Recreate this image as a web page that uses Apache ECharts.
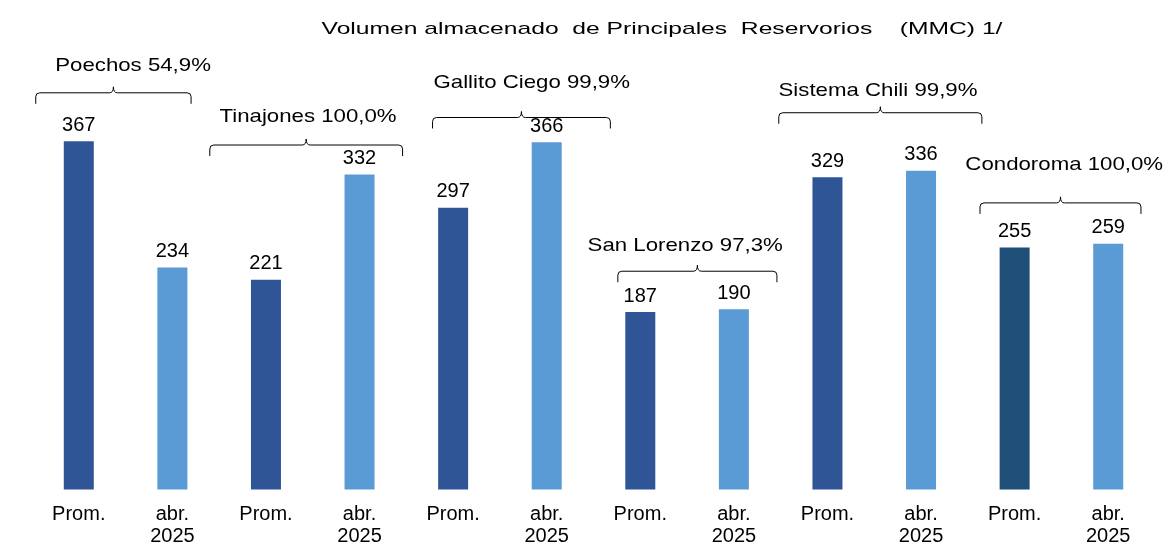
<!DOCTYPE html>
<html>
<head>
<meta charset="utf-8">
<script src="https://cdn.jsdelivr.net/npm/echarts@6/dist/echarts.min.js"></script>
<style>
  html, body { margin: 0; padding: 0; background: #fff; }
  #chart { width: 1170px; height: 543px; }
</style>
</head>
<body>
<div id="chart"></div>
<script>
// bars: one "Prom." and one "abr. 2025" per reservoir
const categories = ['Prom.', 'abr.\n2025', 'Prom.', 'abr.\n2025', 'Prom.', 'abr.\n2025',
  'Prom.', 'abr.\n2025', 'Prom.', 'abr.\n2025', 'Prom.', 'abr.\n2025']
const volumes = [367, 234, 221, 332, 297, 366, 187, 190, 329, 336, 255, 259]

// bracket annotations (x in category index units, y in MMC units)
const reservoirs = ['Poechos', 'Tinajones', 'Gallito Ciego', 'San Lorenzo', 'Sistema Chili', 'Condoroma']
const fillPct = ['54,9%', '100,0%', '99,9%', '97,3%', '99,9%', '100,0%']
const bracketFrom = [-0.46, 1.40, 3.78, 5.76, 7.48, 9.63]
const bracketTo = [1.20, 3.46, 5.68, 7.46, 9.65, 11.35]
const bracketLevel = [418, 363, 392, 230, 397, 302]
const labelX = [0.58, 2.45, 4.84, 6.48, 8.54, 10.53]
const labelLevel = [447, 393, 429, 257, 420, 342]

const TITLE = 'Volumen almacenado  de Principales  Reservorios    (MMC) 1/'

const DARK = '#2F5597'
const LIGHT = '#5B9BD5'
const CONDOROMA_DARK = '#1F4E79'
const FONT = '"Liberation Sans", Arial, sans-serif'

const chart = echarts.init(document.getElementById('chart'), null, { renderer: 'canvas' })

const bracketData = reservoirs.map((name, i) => [
  bracketFrom[i], bracketTo[i], bracketLevel[i], labelX[i], labelLevel[i], name + ' ' + fillPct[i]
])

function renderBracket(params, api) {
  const a = api.coord([api.value(0), api.value(2)])
  const b = api.coord([api.value(1), api.value(2)])
  const t = api.coord([api.value(3), api.value(4)])
  const y = a[1]
  const x0 = a[0]
  const x1 = b[0]
  const xm = (x0 + x1) / 2
  const drop = 11
  const r = 4
  const tick = 6
  const d = `M${x0} ${y + drop} L${x0} ${y + r} Q${x0} ${y} ${x0 + r} ${y}` +
    ` L${xm - r} ${y} Q${xm} ${y} ${xm} ${y - tick} Q${xm} ${y} ${xm + r} ${y}` +
    ` L${x1 - r} ${y} Q${x1} ${y} ${x1} ${y + r} L${x1} ${y + drop}`
  return {
    type: 'group',
    children: [
      {
        type: 'path',
        shape: { pathData: d },
        style: { stroke: '#000', fill: null, lineWidth: 1 }
      },
      {
        type: 'text',
        x: t[0],
        y: t[1],
        scaleX: 1.17,
        style: {
          text: api.value(5),
          fill: '#000',
          font: '19px ' + FONT,
          align: 'center',
          verticalAlign: 'middle'
        }
      }
    ]
  }
}

const option = {
  animation: false,
  backgroundColor: '#fff',
  graphic: [
    {
      type: 'text',
      x: 662,
      y: 29,
      scaleX: 1.45,
      silent: true,
      style: {
        text: TITLE,
        fill: '#000',
        font: '17px ' + FONT,
        align: 'center',
        verticalAlign: 'middle'
      }
    }
  ],
  grid: {
    left: 32,
    right: 15,
    top: 15,
    bottom: 53.5,
    outerBoundsMode: 'none'
  },
  xAxis: [
    {
      type: 'category',
      data: categories,
      axisLine: { show: false },
      axisTick: { show: false },
      axisLabel: {
        interval: 0,
        margin: 14,
        color: '#000',
        fontFamily: FONT,
        fontSize: 20,
        lineHeight: 22
      }
    },
    {
      type: 'value',
      min: -0.5,
      max: 11.5,
      show: false
    }
  ],
  yAxis: {
    type: 'value',
    min: 0,
    max: 500,
    show: false,
    splitLine: { show: false }
  },
  series: [
    {
      type: 'bar',
      data: volumes,
      barWidth: 30,
      itemStyle: {
        color: (p) => {
          if (p.dataIndex % 2 === 1) return LIGHT
          return reservoirs[p.dataIndex / 2] === 'Condoroma' ? CONDOROMA_DARK : DARK
        }
      },
      label: {
        show: true,
        position: 'top',
        distance: 6,
        color: '#000',
        fontFamily: FONT,
        fontSize: 20
      }
    },
    {
      type: 'custom',
      xAxisIndex: 1,
      yAxisIndex: 0,
      clip: false,
      silent: true,
      data: bracketData,
      renderItem: renderBracket
    }
  ]
}

chart.setOption(option)
</script>
</body>
</html>
